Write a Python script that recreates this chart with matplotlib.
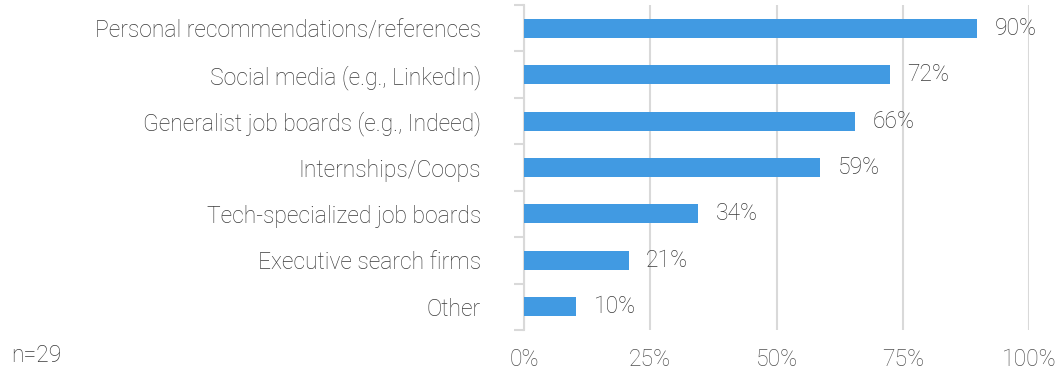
import matplotlib.pyplot as plt

categories = ['Personal recommendations/references', 'Social media (e.g., LinkedIn)',
              'Generalist job boards (e.g., Indeed)', 'Internships/Coops',
              'Tech-specialized job boards', 'Executive search firms', 'Other']
values = [89.7, 72.4, 65.5, 58.6, 34.4, 20.7, 10.3]
xticks = [0, 25, 50, 75, 100]
note = 'n=29'

plt.rcParams['font.family'] = ['Roboto', 'DejaVu Sans']
weight = 'light'
fs = 16.5

fig = plt.figure(figsize=(10.62, 3.73), dpi=100)
ax = fig.add_axes([524 / 1062, 1 - 330 / 373, 505 / 1062, 325 / 373])

ypos = list(range(len(categories)))
ax.barh(ypos, values, height=0.41, color='#419ae2', zorder=3)
ax.set_ylim(len(categories) - 0.5, -0.5)
ax.set_xlim(0, 100)

for y, v in zip(ypos, values):
    ax.text(v + 3.5, y, f'{v:.0f}%', va='center', ha='left', fontsize=fs,
            color='#3a3a3a', fontweight=weight)

ax.set_yticks(ypos)
ax.set_yticklabels(categories, fontsize=fs, color='#3a3a3a', fontweight=weight)
ax.set_yticks([y - 0.5 for y in range(len(categories) + 1)], minor=True)
ax.tick_params(axis='y', which='major', length=0, pad=31)
ax.tick_params(axis='y', which='minor', length=7, width=1.5, color='#d9d9d9')

ax.set_xticks(xticks)
ax.set_xticklabels([f'{t}%' for t in xticks], fontsize=fs, color='#505050', fontweight=weight)
ax.tick_params(axis='x', length=0, pad=13)
ax.grid(axis='x', color='#d9d9d9', linewidth=1.5, zorder=0)

for s in ['top', 'right', 'bottom']:
    ax.spines[s].set_visible(False)
ax.spines['left'].set_color('#d9d9d9')
ax.spines['left'].set_linewidth(1.5)

fig.text(11 / 1062, 1 - 355 / 373, note, fontsize=fs, color='#3a3a3a',
         fontweight=weight, va='center', ha='left')

fig.savefig('out.png', dpi=100)
